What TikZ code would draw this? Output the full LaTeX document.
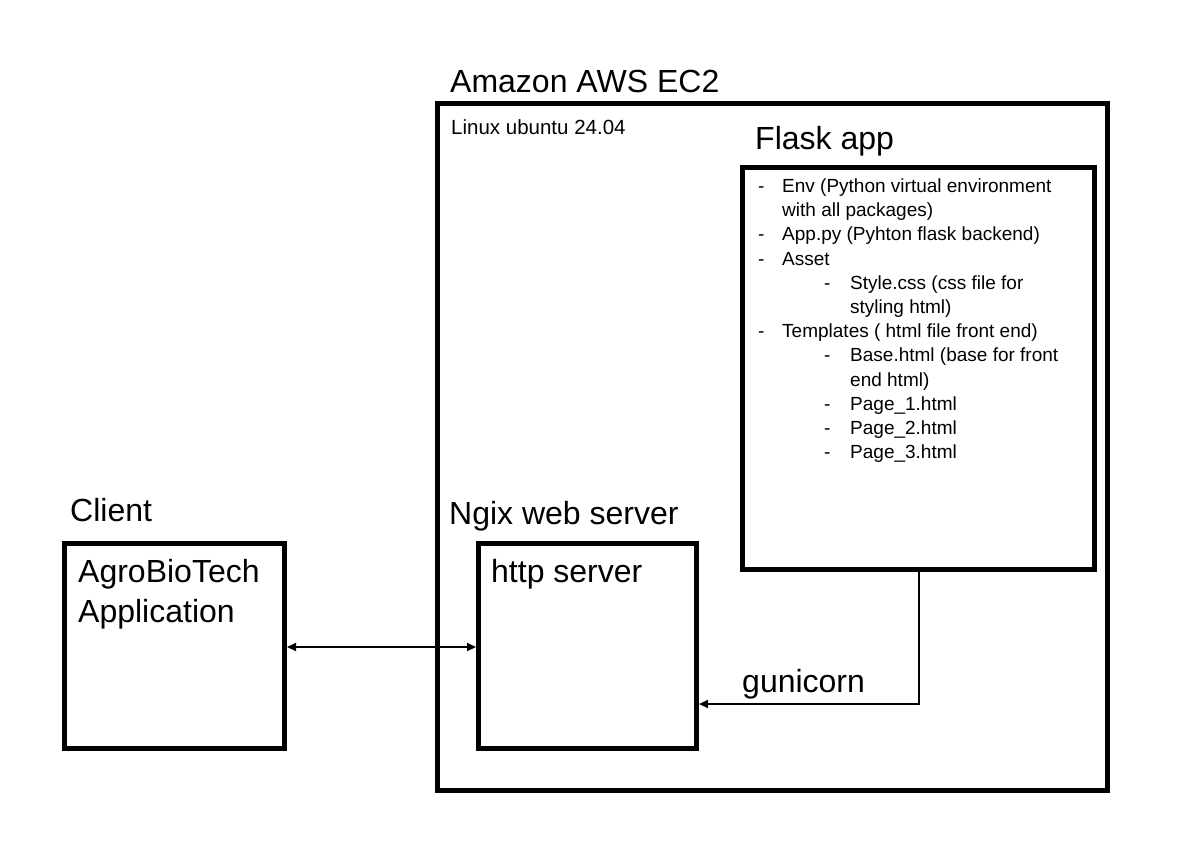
\documentclass[tikz,border=0pt]{standalone}
\usepackage{fontspec}
\setmainfont{Liberation Sans}
\usetikzlibrary{arrows.meta}
\begin{document}
\begin{tikzpicture}[x=1pt,y=-1pt,
  box/.style={draw=black,line width=5pt},
  big/.style={font=\fontsize{32}{38}\selectfont,inner sep=0,anchor=base west},
  small/.style={font=\fontsize{19}{24}\selectfont,inner sep=0,anchor=base west},
  conn/.style={draw=black,line width=2pt},
  tip/.style={-{Triangle[length=9pt,width=8pt]}}]
\useasboundingbox (0,0) rectangle (1198,840);
% boxes
\draw[box] (437.5,103.5) rectangle (1107.5,790.5);
\draw[box] (742.5,167.5) rectangle (1094.5,569.5);
\node[box,minimum width=218pt,minimum height=205pt,inner sep=0] (http) at (587.5,646) {};
\node[box,minimum width=220pt,minimum height=205pt,inner sep=0] (client) at (174.5,646) {};
\coordinate (flaskbot) at (919,569.5);
% labels
\node[big] (aws) at (450,93) {Amazon AWS EC2};
\node[small,font=\fontsize{20.5}{24}\selectfont] (linux) at (451,135) {Linux ubuntu 24.04};
\node[big] (flask) at (755,149) {Flask app};
\node[big] (ngix) at (449,524) {Ngix web server};
\node[big] (clientlbl) at (70,521) {Client};
\node[big] (agro) at (78,582) {AgroBioTech};
\node[big] (appl) at (78,622) {Application};
\node[big] (httpl) at (491,582) {http server};
\node[big] (guni) at (742,692) {gunicorn};
% list
\foreach \y/\d/\t [count=\i] in {
  192/0/{Env (Python virtual environment},
  216/1/{with all packages)},
  240/0/{App.py (Pyhton flask backend)},
  265/0/{Asset},
  289/2/{Style.css (css file for},
  313/3/{styling html)},
  337/0/{Templates ( html file front end)},
  361/2/{Base.html (base for front},
  386/3/{end html)},
  410/2/{Page\_1.html},
  434/2/{Page\_2.html},
  458/2/{Page\_3.html}}{
  \ifnum\d=0
    \node[small] (d\i) at (758,\y) {-};
    \node[small] (t\i) at (782,\y) {\t};
  \fi
  \ifnum\d=1
    \node[small] (t\i) at (782,\y) {\t};
  \fi
  \ifnum\d=2
    \node[small] (d\i) at (824,\y) {-};
    \node[small] (t\i) at (850,\y) {\t};
  \fi
  \ifnum\d=3
    \node[small] (t\i) at (850,\y) {\t};
  \fi
}
% connectors
\draw[conn,{Triangle[length=9pt,width=8pt]}-{Triangle[length=9pt,width=8pt]}] (client.east |- 0,647) -- (http.west |- 0,647);
\draw[conn,tip] (flaskbot) |- (http.east |- 0,704);
\end{tikzpicture}
\end{document}
